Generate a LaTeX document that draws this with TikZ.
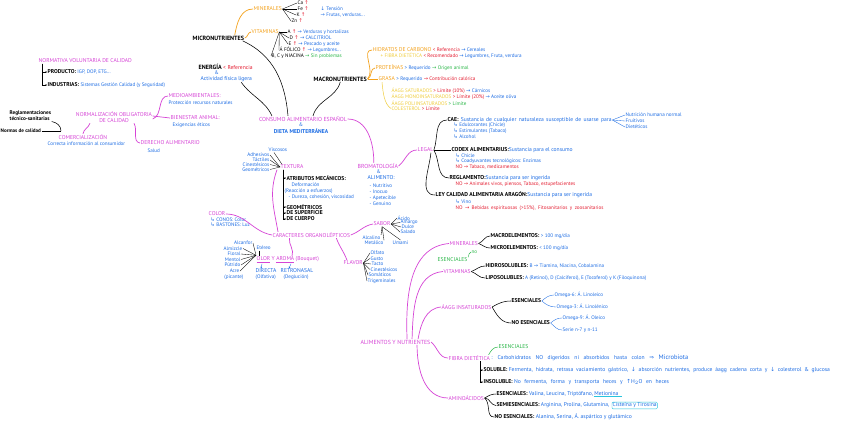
\documentclass[tikz,border=0pt]{standalone}
\usepackage{fontspec}
\setmainfont{PT Sans}
\newfontfamily\symf{DejaVu Sans}
\usetikzlibrary{arrows.meta}
\definecolor{mag}{RGB}{214,68,214}
\definecolor{org}{RGB}{244,162,28}
\definecolor{yel}{RGB}{240,205,60}
\definecolor{blu}{RGB}{28,108,228}
\definecolor{rdd}{RGB}{228,28,48}
\definecolor{grn}{RGB}{40,182,70}
\definecolor{cyn}{RGB}{40,196,222}
\newcommand\szS{\fontsize{5.1}{5.6}\selectfont}
\newcommand\szM{\fontsize{5.6}{6.2}\selectfont}
\newcommand\szH{\fontsize{6.1}{7}\selectfont}
\newcommand\szG{\fontsize{5.7}{6.3}\selectfont}
\newcommand\myra{{\symf →}}
\newcommand\myua{{\symf ↑}}
\newcommand\myda{{\symf ↓}}
\newcommand\myhk{{\symf ↳}}
\newcommand\myRa{{\symf ⇒}}
\begin{document}
\begin{tikzpicture}[x=1pt,y=-1pt,
 nb/.style={anchor=west,inner sep=0.4pt,outer sep=0.3pt},
 sBl/.style={nb,text=blu,font=\szS},
 sBm/.style={nb,text=blu,font=\szM},
 sK/.style={nb,text=black,font=\szS},
 sBk/.style={nb,text=black,font=\szM\bfseries},
 sLg/.style={nb,text=black,font=\szG\bfseries},
 sHd/.style={nb,text=black,font=\szH\bfseries},
 sMg/.style={nb,text=mag,font=\szM},
 sOg/.style={nb,text=org,font=\szM},
 sYl/.style={nb,text=yel,font=\szS},
 sRd/.style={nb,text=rdd,font=\szS},
 sGn/.style={nb,text=grn,font=\szM},
 lMg/.style={draw=mag,line width=0.7pt},
 lK/.style={draw=black,line width=0.55pt},
 lKt/.style={draw=black,line width=0.35pt},
 lBt/.style={draw=blu,line width=0.35pt},
 lOg/.style={draw=org,line width=0.7pt},
 lYl/.style={draw=yel,line width=0.5pt},
 tip/.style={-{Stealth[length=1.6pt,width=1.6pt]}},
]
\fill[white] (0,0) rectangle (848,423);
\useasboundingbox (0,0) rectangle (848,423);

% ---------- MICRONUTRIENTES
\node[sOg] (min) at (253,9) {MINERALES};
\node[sK] (ca) at (297,3) {Ca {\color{rdd}\myua}};
\node[sK] (fe) at (297,9) {Fe {\color{rdd}\myua}};
\node[sK] (kk) at (296,15) {K {\color{rdd}\myua}};
\node[sK] (zn) at (291,21) {Zn {\color{rdd}\myua}};
\node[sBl] (tens) at (320,9) {\myda\ Tensión};
\node[sBl] (frut) at (320,15) {\myra\ Frutas, verduras...};
\foreach \n in {ca,fe,kk,zn} \draw[lKt] (min.east) -- (\n.west);

\node[sOg] (vit) at (251,32) {VITAMINAS};
\node[sK] (va) at (287,32) {A {\color{rdd}\myua} {\color{blu}\myra\ Verduras y hortalizas}};
\node[sK] (vd) at (289,38) {D {\color{rdd}\myua} {\color{blu}\myra\ CALCITRIOL}};
\node[sK] (ve) at (288,44) {E {\color{rdd}\myua} {\color{blu}\myra\ Pescado y aceite}};
\node[sK] (vf) at (279,50) {Á FÓLICO {\color{rdd}\myua} {\color{blu}\myra\ Legumbres...}};
\node[sK] (vb) at (271,56) {B, C y NIACINA {\color{grn}\myra\ Sin problemas}};
\foreach \n in {va,vd,ve,vf,vb} \draw[lKt] (vit.east) -- (\n.west);

\node[sHd] (micro) at (192,38) {MICRONUTRIENTES};
\draw[lOg] ([xshift=-10pt]micro.north east) to[out=80,in=180] (min.west);
\draw[lOg] (micro.east) to[out=15,in=185] (vit.west);

\node[sHd] (ener) at (198,67) {ENERGÍA {\mdseries\szM\color{rdd}< Referencia}};
\node[sBl] (eamp) at (214,73) {\&};
\node[sBm] (act) at (200,79) {Actividad física ligera};

% ---------- CONSUMO
\node[text=mag,font=\fontsize{5.8}{6.5}\selectfont,inner sep=0.4pt] (cons) at (303,119) {CONSUMO ALIMENTARIO ESPAÑOL};
\node[text=blu,font=\szS,inner sep=0.4pt] (camp) at (301,125) {\&};
\node[text=blu,font=\szM\bfseries,inner sep=0.4pt] (dieta) at (301,131) {DIETA MEDITERRÁNEA};
\draw[lK] ([xshift=-2pt]micro.south east) to[out=-25,in=95] ([xshift=-15pt]cons.north);
\draw[lK] ([xshift=15pt]act.south) to[out=-55,in=115] ([xshift=-31pt]cons.north);

% ---------- MACRONUTRIENTES
\node[sHd] (macro) at (313,79) {MACRONUTRIENTES};
\draw[lK] (macro.south) to[out=-105,in=75] ([xshift=10pt]cons.north);
\node[sOg] (hc) at (372,50) {HIDRATOS DE CARBONO {\szS\color{rdd}< Referencia} {\szS\color{blu}\myra\ Cereales}};
\node[sYl] (fib) at (380,56) {+ FIBRA DIETÉTICA {\color{rdd}< Recomendado} {\color{blu}\myra\ Legumbres, Fruta, verdura}};
\node[sOg] (prot) at (375,68) {PROTEÍNAS {\szS\color{blu}> Requerido} {\szS\color{grn}\myra\ Origen animal}};
\node[sOg] (gras) at (378,79) {GRASA {\szS\color{blu}> Requerido} {\szS\color{rdd}\myra\ Contribución calórica}};
\node[sYl] (sat) at (391,91) {ÁAGG SATURADOS {\color{rdd}> Límite (10\%)} {\color{blu}\myra\ Cárnicos}};
\node[sYl] (mono) at (391,97) {ÁAGG MONOINSATURADOS {\color{rdd}> Límite (20\%)} {\color{blu}\myra\ Aceite oliva}};
\node[sYl] (poli) at (391,103) {ÁAGG POLIINSATURADOS {\color{grn}> Límite}};
\node[sYl] (colest) at (391,108.5) {COLESTEROL {\color{rdd}> Límite}};
\draw[lOg] (macro.east) to[out=45,in=180] (hc.west);
\draw[lOg] (macro.east) to[out=20,in=180] (prot.west);
\draw[lOg] (macro.east) -- (gras.west);
\draw[lYl] ([xshift=4pt]gras.south west) .. controls (383,92) and (384,104) .. (colest.west);

% ---------- NORMATIVA / NORMALIZACION
\node[sMg] (nvol) at (38,61) {NORMATIVA VOLUNTARIA DE CALIDAD};
\node[sBk] (prod) at (47,72) {PRODUCTO: {\mdseries\szS\color{blu} IGP, DOP, ETG...}};
\node[sBk] (indu) at (47,85) {INDUSTRIAS: {\mdseries\szS\color{blu} Sistemas Gestión Calidad (y Seguridad)}};
\draw[lKt,tip] ([xshift=4pt]nvol.south west) |- (prod.west);
\draw[lKt,tip] ([xshift=4pt]nvol.south west) |- (indu.west);

\node[sMg] (medio) at (168,96) {MEDIOAMBIENTALES:};
\node[sBl] (medio2) at (168,103) {Protección recursos naturales};
\node[sMg] (bien) at (170,118) {BIENESTAR ANIMAL:};
\node[sBl] (bien2) at (172,125) {Exigencias éticos};
\node[text=mag,font=\szM,align=center,inner sep=0.4pt,outer sep=0.3pt] (norm) at (114,117) {NORMALIZACIÓN OBLIGATORIA\\DE CALIDAD};
\node[nb,text=black,font=\fontsize{5.3}{5.8}\selectfont\bfseries,align=left] (regl) at (9,116) {Reglamentaciones\\técnico-sanitarias};
\node[nb,text=black,font=\fontsize{5.1}{5.6}\selectfont\bfseries] (ncal) at (0,131) {Normas de calidad};
\node[sMg] (com) at (58,137) {COMERCIALIZACIÓN};
\node[sBl] (com2) at (47,144) {Correcta información al consumidor};
\node[sMg] (der) at (140,143) {DERECHO ALIMENTARIO};
\node[sBl] (der2) at (147,151) {Salud};
\coordinate (brk) at (61,131);
\draw[lK] (regl.south east) to[out=-10,in=90] (brk);
\draw[lKt] (ncal.east) -- (brk);
\draw[lMg] ([yshift=-2pt]norm.east) to[out=20,in=180] (medio.west);
\draw[lMg] ([yshift=1pt]norm.east) -- (bien.west);
\draw[lMg] ([xshift=-24pt]norm.south) to[out=-110,in=80] (com.north);
\draw[lMg] ([xshift=20pt]norm.south) to[out=-60,in=170] (der.west);

% ---------- BROMATOLOGIA
\node[sMg,font=\fontsize{5.8}{6.5}\selectfont] (broma) at (357,166) {BROMATOLOGÍA};
\node[sBl] (bamp) at (376,172) {\&};
\node[sBm] (alim) at (367,178) {ALIMENTO:};
\node[sBl] (nutr) at (369,186) {- Nutritivo};
\node[sBl] (inoc) at (369,192) {- Inocuo};
\node[sBl] (apet) at (369,198) {- Apetecible};
\node[sBl] (genu) at (369,204) {- Genuino};
\draw[lMg] (cons.east) to[out=0,in=90] ([xshift=-4pt]broma.north);

% ---------- LEGAL
\node[sMg] (legal) at (417,150) {LEGAL};
\draw[lMg] (broma.east) to[out=40,in=180] (legal.west);
\node[sLg] (cae) at (447,120) {CAE:{\mdseries\szM\color{blu}\spaceskip=2.3pt plus 1pt\ Sustancia de cualquier naturaleza susceptible de usarse para}};
\node[sBl] (nhum) at (625,115) {Nutrición humana normal};
\node[sBl] (frui) at (625,121) {Fruitivos};
\node[sBl] (diet) at (625,127) {Dietéticos};
\foreach \n in {nhum,frui,diet} \draw[lBt] (cae.east) -- (\n.west);
\node[sBl] (edul) at (453,125.5) {\myhk\ Edulcorantes (Chicle)};
\node[sBl] (esti) at (453,131) {\myhk\ Estimulantes (Tabaco)};
\node[sBl] (alco) at (453,136.5) {\myhk\ Alcohol};
\node[sLg] (codex) at (451,150) {CODEX ALIMENTARIUS:{\mdseries\szM\color{blu} Sustancia para el consumo}};
\node[sBl] (chic) at (455,156) {\myhk\ Chicle};
\node[sBl] (coad) at (455,161.5) {\myhk\ Coadyuvantes tecnológicos: Enzimas};
\node[sRd] (notab) at (455,167) {NO \myra\ Tabaco, medicamentos};
\node[sLg] (regla) at (449,178) {REGLAMENTO:{\mdseries\szM\color{blu} Sustancia para ser ingerida}};
\node[sRd] (noani) at (455,184) {NO \myra\ Animales vivos, piensos, Tabaco, estupefacientes};
\node[sLg] (ley) at (435,195) {LEY CALIDAD ALIMENTARIA ARAGÓN:{\mdseries\szM\color{blu} Sustancia para ser ingerida}};
\node[sBl] (vino) at (455,202) {\myhk\ Vino};
\node[sRd] (nobeb) at (455,208) {\spaceskip=2.4pt plus 1pt NO \myra\ Bebidas espirituosas (>15\%), Fitosanitarios y zoosanitarios};
\draw[lK] (legal.east) to[out=70,in=180] (cae.west);
\draw[lK] (legal.east) -- (codex.west);
\draw[lK] (legal.east) to[out=-60,in=180] (regla.west);
\draw[lK] ([xshift=-3pt]legal.south east) to[out=-95,in=180] (ley.west);

% ---------- TEXTURA
\node[sMg] (tex) at (280,167) {TEXTURA};
\node[sBl] (visc) at (268,150) {Viscosos};
\node[sBl,anchor=east] (adhe) at (270,155) {Adhesivos};
\node[sBl,anchor=east] (tact) at (270,160) {Táctiles};
\node[sBl,anchor=east] (cine) at (270,164.5) {Cinestésicos};
\node[sBl,anchor=east] (geom) at (270,169.5) {Geométricos};
\draw[lKt] ([xshift=6pt]visc.south west) -- ([xshift=2pt]tex.north west);
\foreach \n in {adhe,tact,cine,geom} \draw[lKt] (\n.east) -- (tex.west);
\node[sBk] (atr) at (286,178) {ATRIBUTOS MECÁNICOS:};
\node[sBl] (defo) at (291,185) {Deformación};
\node[sBl] (reac) at (284,191) {(Reacción a esfuerzos)};
\node[sBl] (dure) at (288,197) {- Dureza, cohesión, viscosidad};
\node[sBk] (geo) at (286,207) {GEOMÉTRICOS};
\node[sBk] (sup) at (286,213) {DE SUPERFICIE};
\node[sBk] (cue) at (286,219) {DE CUERPO};
\foreach \n in {atr,geo,sup,cue} \draw[lKt,tip] ([xshift=3pt]tex.south west) |- (\n.west);

\node[sMg] (color) at (208,214) {COLOR};
\node[sBl] (conos) at (210,219.5) {\myhk\ CONOS: Color};
\node[sBl] (bast) at (210,225) {\myhk\ BASTONES: Luz};
\node[sMg] (carac) at (272,235) {CARACTERES ORGANOLÉPTICOS};
\draw[lMg] (color.east) to[out=0,in=170] (carac.west);
\draw[lMg] ([xshift=-3pt]tex.south west) to[out=-110,in=100] ([xshift=6pt]carac.north west);

% ---------- OLOR
\node[sBl,anchor=east] (alca) at (253,243) {Alcanfor};
\node[sBl,anchor=east] (almi) at (243,248.5) {Almizcle};
\node[sBl,anchor=east] (flor) at (241,254) {Floral};
\node[sBl,anchor=east] (ment) at (241,259.5) {Mentol};
\node[sBl,anchor=east] (putr) at (241,265) {Pútrido};
\node[sBl,anchor=east] (acre) at (240,271) {Acre};
\node[sBl,anchor=east] (pica) at (244,277) {(picante)};
\node[sBl] (eter) at (256,248) {Etéreo};
\node[sMg] (olor) at (256,260) {\underline{OLOR} Y \underline{AROMA} (Bouquet)};
\foreach \n in {alca,almi,flor,ment,putr,acre} \draw[lKt] (\n.east) -- ([yshift=1pt]olor.north west);
\draw[lKt] ([xshift=3pt]eter.south west) -- ([xshift=3pt]olor.north west);
\draw[lMg] ([xshift=-22pt]carac.south) to[out=-95,in=70] ([xshift=36pt]olor.north west);
\node[sBm] (dire) at (255,271) {DIRECTA};
\node[sBl] (olfa) at (255,277.5) {(Olfativa)};
\node[sBm] (retr) at (280,271) {RETRONASAL};
\node[sBl] (degl) at (283,277.5) {(Deglución)};
\draw[lBt,tip] ([xshift=6pt]olor.south west) -- ([xshift=6pt]dire.north west);
\draw[lBt,tip] ([xshift=35pt]olor.south west) -- ([xshift=9pt]retr.north west);

% ---------- SABOR / FLAVOR
\node[sMg] (sabor) at (373,224) {SABOR};
\node[sBl] (acid) at (397,218) {Ácido};
\node[sBl] (amar) at (400,222.5) {Amargo};
\node[sBl] (dulc) at (401,227) {Dulce};
\node[sBl] (sala) at (400,232) {Salado};
\node[sBl] (umam) at (392,242.5) {Umami};
\node[sBl] (alca2) at (362,237.5) {Alcalino};
\node[sBl] (meta) at (364,243) {Metálico};
\foreach \n in {acid,amar,dulc,sala} \draw[lKt] (sabor.east) -- (\n.west);
\draw[lKt] (sabor.south) -- (alca2.north east);
\draw[lKt] (sabor.south) -- (meta.north east);
\draw[lKt] (sabor.south) -- (umam.north);
\draw[lMg] (carac.east) to[out=20,in=190] (sabor.west);

\node[sMg] (flav) at (343,263) {FLAVOR};
\draw[lMg] ([xshift=25pt]carac.south) to[out=-70,in=110] ([xshift=4pt]flav.north west);
\node[sBl] (olf) at (370,253) {Olfato};
\node[sBl] (gus) at (370,258.5) {Gusto};
\node[sBl] (tac) at (371,264) {Tacto};
\node[sBl] (cin2) at (370,269.5) {Cinestésicos};
\node[sBl] (som) at (368,275) {Somáticos};
\node[sBl] (tri) at (367,281) {Trigeminales};
\foreach \n in {olf,gus,tac,cin2,som,tri} \draw[lKt] (flav.east) -- (\n.west);

% ---------- ALIMENTOS Y NUTRIENTES
\node[sMg,font=\fontsize{5.9}{6.5}\selectfont] (aln) at (360,342) {ALIMENTOS Y NUTRIENTES};
\node[sMg] (min2) at (449,243.5) {MINERALES};
\node[sBk] (macroe) at (490,236) {MACROELEMENTOS: {\mdseries\szS\color{blu} > 100 mg/día}};
\node[sBk] (microe) at (490,248) {MICROELEMENTOS: {\mdseries\szS\color{blu} < 100 mg/día}};
\draw[lK] (min2.east) to[out=20,in=180] (macroe.west);
\draw[lK] (min2.east) to[out=-20,in=180] (microe.west);
\node[sGn] (esen) at (437,260) {ESENCIALES};
\node[nb,text=grn,font=\szS] (esno) at (471,252) {no};
\draw[draw=grn,line width=0.4pt] (esno.west) to[out=180,in=60] (esen.north east);
\node[sMg] (vit2) at (443,271.5) {VITAMINAS};
\node[sBk] (hidro) at (485,266) {HIDROSOLUBLES: {\mdseries\szS\color{blu} B \myra\ Tiamina, Niacina, Cobalamina}};
\node[sBk] (lipo) at (485,278) {LIPOSOLUBLES: {\mdseries\szS\color{blu} A (Retinol), D (Calciferol), E (Tocoferol) y K (Filoquinona)}};
\draw[lK] (vit2.east) to[out=20,in=180] (hidro.west);
\draw[lK] (vit2.east) to[out=-20,in=180] (lipo.west);

\node[sMg] (aagg) at (441,307) {ÁAGG INSATURADOS};
\node[sBk] (ese1) at (511,301) {ESENCIALES};
\node[sBk] (noese) at (511,323) {NO ESENCIALES};
\node[sBl] (om6) at (554,295) {Omega-6: Á. Linoleico};
\node[sBl] (om3) at (556,307) {Omega-3: Á. Linolénico};
\node[sBl] (om9) at (562,318) {Omega-9: Á. Oleico};
\node[sBl] (seri) at (562,330) {Serie n-7 y n-11};
\draw[lK] (aagg.east) to[out=30,in=180] (ese1.west);
\draw[lK] (aagg.east) to[out=-60,in=180] (noese.west);
\draw[lBt] (ese1.east) to[out=40,in=180] (om6.west);
\draw[lBt] (ese1.east) to[out=-40,in=180] (om3.west);
\draw[lBt] (noese.east) to[out=40,in=180] (om9.west);
\draw[lBt] (noese.east) to[out=-40,in=180] (seri.west);

\node[sMg] (fibra) at (448,358) {FIBRA DIETÉTICA};
\node[sBm] (fibd) at (fibra.east) {\spaceskip=4.6pt plus 1pt: Carbohidratos NO digeridos ni absorbidos hasta colon \myRa\ {\fontsize{6.5}{7}\selectfont Microbiota}};
\node[sGn] (fese) at (498,347) {ESENCIALES};
\draw[draw=grn,line width=0.5pt] ([xshift=-2pt]fibra.north east) to[out=60,in=180] (fese.west);
\node[sBk] (sol) at (483,370) {SOLUBLE: {\mdseries\szM\color{blu}\spaceskip=2.9pt plus 1pt Fermenta, hidrata, retrasa vaciamiento gástrico, \myda\ absorción nutrientes, produce áagg cadena corta y \myda\ colesterol \& glucosa}};
\node[sBk] (insol) at (483,382) {INSOLUBLE: {\mdseries\szM\color{blu}\spaceskip=3.6pt plus 1pt No fermenta, forma y transporta heces y \myua H$_2$O en heces}};
\draw[lKt,tip] ([xshift=32pt]fibra.south west) |- (sol.west);
\draw[lKt,tip] ([xshift=32pt]fibra.south west) |- (insol.west);

\node[sMg] (amino) at (448,398) {AMINOÁCIDOS};
\node[sBk] (aese) at (496,394) {ESENCIALES: {\mdseries\szM\color{blu} Valina, Leucina, Triptófano,}};
\node[sBm] (meti) at (aese.east) {Metionina};
\draw[draw=cyn,line width=0.5pt] (meti.south west) -- ([xshift=3pt]meti.south east);
\node[sBk] (asemi) at (496,405.5) {SEMIESENCIALES: {\mdseries\szM\color{blu} Arginina, Prolina, Glutamina,}};
\node[sBm] (cist) at ([xshift=2pt]asemi.east) {Cisteína y Tirosina};
\draw[draw=cyn,line width=0.45pt,rounded corners=1pt] (cist.south west) rectangle (cist.north east);
\node[sBk] (anoes) at (494,417) {NO ESENCIALES: {\mdseries\szM\color{blu} Alanina, Serina, Á. aspártico y glutámico}};
\draw[lK] (amino.east) to[out=30,in=180] (aese.west);
\draw[lK] (amino.east) to[out=0,in=180] (asemi.west);
\draw[lK] (amino.east) to[out=-40,in=180] (anoes.west);

\draw[lMg] ([xshift=-24pt]aln.north east) to[out=92,in=185] (min2.west);
\draw[lMg] ([xshift=-19pt]aln.north east) to[out=88,in=185] (vit2.west);
\draw[lMg] ([xshift=-13pt]aln.north east) to[out=80,in=185] (aagg.west);
\draw[lMg] (aln.east) to[out=-40,in=180] (fibra.west);
\draw[lMg] ([xshift=-14pt]aln.south east) to[out=-90,in=180] (amino.west);
\end{tikzpicture}
\end{document}
